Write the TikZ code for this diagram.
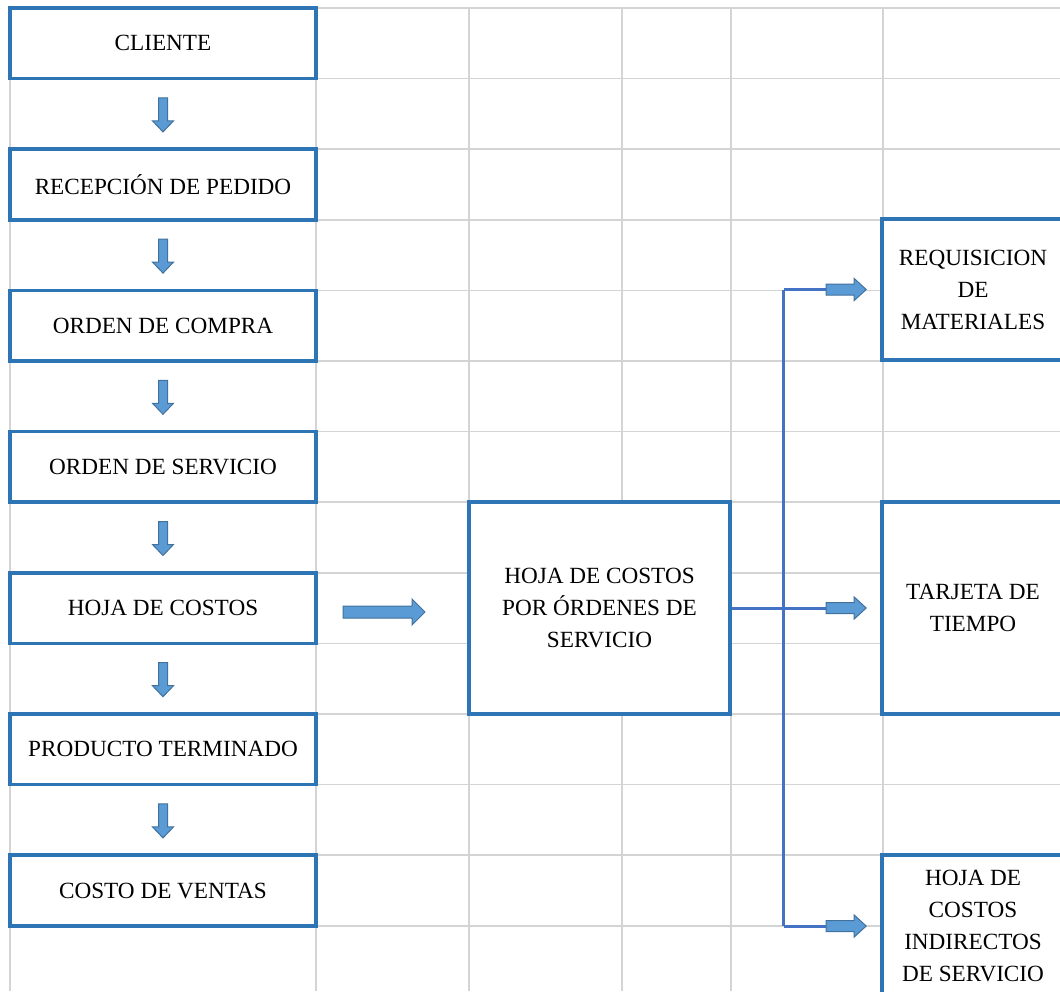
\documentclass[tikz,border=0pt]{standalone}
\usepackage{fontspec}
\setmainfont{Liberation Serif}
\usetikzlibrary{calc}

\definecolor{azulcaja}{RGB}{46,117,182}
\definecolor{azulflecha}{RGB}{91,155,213}
\definecolor{bordeflecha}{RGB}{65,113,156}
\definecolor{azullinea}{RGB}{68,114,196}
\definecolor{grisrejilla}{RGB}{212,212,212}

\tikzset{
    rejilla/.style={draw=grisrejilla, line width=0.75pt},
    caja/.style={draw=azulcaja, line width=1.8pt, fill=white, inner sep=0pt, align=center,
        font=\fontsize{11.6}{16}\selectfont},
    cajaizq/.style={caja, minimum width=153pt, minimum height=35.3pt},
    conector/.style={draw=azullinea, line width=1.5pt},
    flecha/.style={fill=azulflecha, draw=bordeflecha, line width=0.5pt},
    flecha abajo/.pic={
        \filldraw[flecha] (-4.5,-16) -- (4.5,-16) -- (4.5,7) -- (10.5,7) -- (0,18) -- (-10.5,7) -- (-4.5,7) -- cycle;
    },
    flecha der/.pic={
        \filldraw[flecha] (-20,-5.5) -- (8,-5.5) -- (8,-11) -- (20,0) -- (8,11) -- (8,5.5) -- (-20,5.5) -- cycle;
    },
    flecha larga/.pic={
        \filldraw[flecha] (-41,-6) -- (28,-6) -- (28,-13) -- (41,0) -- (28,13) -- (28,6) -- (-41,6) -- cycle;
    }
}

\begin{document}
\begin{tikzpicture}[x=0.5pt, y=-0.5pt]
            \clip (0,0) rectangle (1060,991);
            \fill[white] (0,0) rectangle (1060,991);

            % rejilla de la hoja
            \draw[rejilla] (10,8) -- (1060,8) (10,78.6) -- (1060,78.6) (10,149.2) -- (1060,149.2)
                (10,219.8) -- (1060,219.8) (10,290.4) -- (1060,290.4) (10,361) -- (1060,361)
                (10,431.6) -- (1060,431.6) (10,502.2) -- (1060,502.2) (10,572.8) -- (1060,572.8)
                (10,643.4) -- (1060,643.4) (10,714) -- (1060,714) (10,784.6) -- (1060,784.6)
                (10,855.2) -- (1060,855.2) (10,925.8) -- (1060,925.8);
            \draw[rejilla] (10,8) -- (10,991) (316,8) -- (316,991) (469,8) -- (469,991)
                (622,8) -- (622,991) (731,8) -- (731,991) (883,8) -- (883,991);

            % columna izquierda
            \node[cajaizq] (cliente) at (163,43.3) {CLIENTE};
            \node[cajaizq] (recepcion) at (163,184.5) {RECEPCIÓN DE PEDIDO};
            \node[cajaizq] (compra) at (163,325.7) {ORDEN DE COMPRA};
            \node[cajaizq] (servicio) at (163,466.9) {ORDEN DE SERVICIO};
            \node[cajaizq] (hojacostos) at (163,608.1) {HOJA DE COSTOS};
            \node[cajaizq] (terminado) at (163,749.3) {PRODUCTO TERMINADO};
            \node[cajaizq] (ventas) at (163,890.5) {COSTO DE VENTAS};

            \pic at ($(cliente)!0.5!(recepcion)$) {flecha abajo};
            \pic at ($(recepcion)!0.5!(compra)$) {flecha abajo};
            \pic at ($(compra)!0.5!(servicio)$) {flecha abajo};
            \pic at ($(servicio)!0.5!(hojacostos)$) {flecha abajo};
            \pic at ($(hojacostos)!0.5!(terminado)$) {flecha abajo};
            \pic at ($(terminado)!0.5!(ventas)$) {flecha abajo};

            % hoja de costos por ordenes
            \node[caja, minimum width=130.5pt, minimum height=106pt] (hojaorden) at (599.5,608) {HOJA DE COSTOS\\POR ÓRDENES DE\\SERVICIO};
            \pic at (384,612) {flecha larga};

            % columna derecha
            \node[caja, minimum width=91pt, minimum height=70.5pt] (requisicion) at (973,289.5) {REQUISICION\\DE\\MATERIALES};
            \node[caja, minimum width=91pt, minimum height=106pt] (tarjeta) at (973,608) {TARJETA DE\\TIEMPO};
            \node[caja, minimum width=91pt, minimum height=71pt] (indirectos) at (973,926) {HOJA DE\\COSTOS\\INDIRECTOS\\DE SERVICIO};

            \coordinate (bus) at ([xshift=26pt]hojaorden.east);
            \draw[conector] (hojaorden.east) -- (bus) -- ++(25pt,0);
            \draw[conector] (bus |- requisicion) -- (bus |- indirectos);
            \draw[conector] (bus |- requisicion) -- ++(25pt,0);
            \draw[conector] (bus |- indirectos) -- ++(25pt,0);

            \pic at ([xshift=-17pt]requisicion.west) {flecha der};
            \pic at ([xshift=-17pt]tarjeta.west) {flecha der};
            \pic at ([xshift=-17pt]indirectos.west) {flecha der};
        \end{tikzpicture}
\end{document}
